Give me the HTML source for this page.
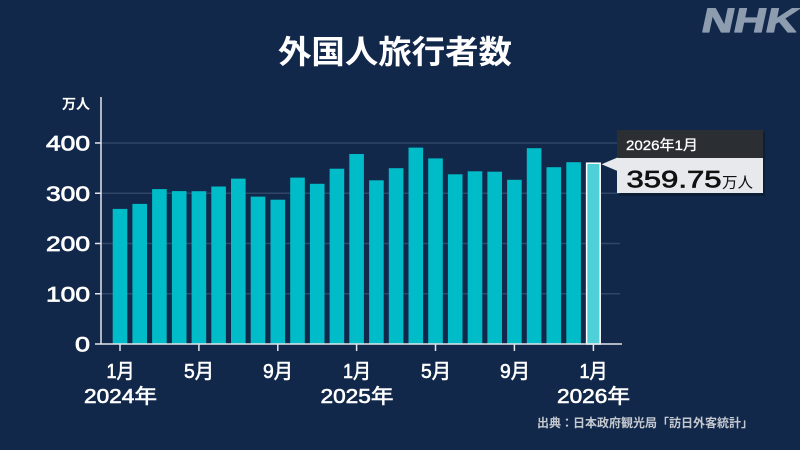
<!DOCTYPE html>
<html><head><meta charset="utf-8">
<style>
html,body{margin:0;padding:0;background:#12284a;}
svg{display:block;}
text{font-family:"Liberation Sans","Noto Sans CJK JP",sans-serif;}
</style></head>
<body>
<svg width="800" height="450" viewBox="0 0 800 450" xmlns="http://www.w3.org/2000/svg">
<rect width="800" height="450" fill="#12284a"/>
<!-- NHK logo -->
<g transform="translate(700,32) skewX(-12)">
<text x="0" y="0" font-size="34" font-weight="900" fill="#8e9cb0" stroke="#8e9cb0" stroke-width="1.2" stroke-linejoin="round" textLength="96" lengthAdjust="spacingAndGlyphs">NHK</text>
</g>
<!-- title -->
<text x="395" y="63" font-size="32" font-weight="bold" fill="#ffffff" text-anchor="middle" textLength="234" lengthAdjust="spacingAndGlyphs" style='font-family:"Noto Sans CJK JP",sans-serif'>外国人旅行者数</text>
<!-- unit -->
<text x="90" y="109" font-size="14" font-weight="bold" fill="#ffffff" text-anchor="end" style='font-family:"Noto Sans CJK JP",sans-serif'>万人</text>
<!-- gridlines -->
<g stroke="#2e4668" stroke-width="1.5">
<line x1="101" y1="143" x2="620" y2="143"/>
<line x1="101" y1="193.25" x2="620" y2="193.25"/>
<line x1="101" y1="243.5" x2="620" y2="243.5"/>
<line x1="101" y1="293.75" x2="620" y2="293.75"/>
</g>
<!-- y labels -->
<g font-size="21" fill="#ffffff" stroke="#ffffff" stroke-width="0.7" text-anchor="end">
<text x="90" y="150.5" textLength="44" lengthAdjust="spacingAndGlyphs">400</text>
<text x="90" y="200.75" textLength="44" lengthAdjust="spacingAndGlyphs">300</text>
<text x="90" y="251" textLength="44" lengthAdjust="spacingAndGlyphs">200</text>
<text x="90" y="301.25" textLength="44" lengthAdjust="spacingAndGlyphs">100</text>
<text x="90" y="351.5" textLength="15" lengthAdjust="spacingAndGlyphs">0</text>
</g>
<!-- bars -->
<g fill="#00bcc8">
<rect x="112.7" y="208.9" width="14.6" height="135.1"/>
<rect x="132.4" y="203.9" width="14.6" height="140.1"/>
<rect x="152.1" y="189.1" width="14.6" height="154.9"/>
<rect x="171.9" y="191.1" width="14.6" height="152.9"/>
<rect x="191.6" y="191.2" width="14.6" height="152.8"/>
<rect x="211.3" y="186.5" width="14.6" height="157.5"/>
<rect x="231.0" y="178.6" width="14.6" height="165.4"/>
<rect x="250.7" y="196.6" width="14.6" height="147.4"/>
<rect x="270.5" y="199.7" width="14.6" height="144.3"/>
<rect x="290.2" y="177.6" width="14.6" height="166.4"/>
<rect x="309.9" y="183.8" width="14.6" height="160.2"/>
<rect x="329.6" y="168.7" width="14.6" height="175.3"/>
<rect x="349.3" y="154.0" width="14.6" height="190.0"/>
<rect x="369.1" y="180.3" width="14.6" height="163.7"/>
<rect x="388.8" y="168.2" width="14.6" height="175.8"/>
<rect x="408.5" y="147.6" width="14.6" height="196.4"/>
<rect x="428.2" y="158.4" width="14.6" height="185.6"/>
<rect x="447.9" y="174.3" width="14.6" height="169.7"/>
<rect x="467.7" y="171.3" width="14.6" height="172.7"/>
<rect x="487.4" y="171.7" width="14.6" height="172.3"/>
<rect x="507.1" y="179.8" width="14.6" height="164.2"/>
<rect x="526.8" y="148.2" width="14.6" height="195.8"/>
<rect x="546.5" y="167.2" width="14.6" height="176.8"/>
<rect x="566.3" y="162.2" width="14.6" height="181.8"/>
</g>
<rect x="586.6" y="163.2" width="13.6" height="180.8" fill="#4fd0d8" stroke="#ffffff" stroke-width="1.5"/>
<!-- axes -->
<g stroke="#e2e6ec" stroke-width="1.5">
<line x1="101" y1="97" x2="101" y2="344"/>
<line x1="95" y1="344" x2="622" y2="344"/>
<line x1="95" y1="143" x2="101" y2="143"/>
<line x1="95" y1="193.25" x2="101" y2="193.25"/>
<line x1="95" y1="243.5" x2="101" y2="243.5"/>
<line x1="95" y1="293.75" x2="101" y2="293.75"/>
<line x1="120" y1="344" x2="120" y2="351"/>
<line x1="198.9" y1="344" x2="198.9" y2="351"/>
<line x1="277.8" y1="344" x2="277.8" y2="351"/>
<line x1="356.6" y1="344" x2="356.6" y2="351"/>
<line x1="435.5" y1="344" x2="435.5" y2="351"/>
<line x1="514.4" y1="344" x2="514.4" y2="351"/>
<line x1="593.4" y1="344" x2="593.4" y2="351"/>
</g>
<!-- x labels -->
<g font-size="20" fill="#ffffff" stroke="#ffffff" stroke-width="0.6" text-anchor="middle">
<text x="120.5" y="378" textLength="28" lengthAdjust="spacingAndGlyphs">1月</text>
<text x="199" y="378" textLength="30" lengthAdjust="spacingAndGlyphs">5月</text>
<text x="278" y="378" textLength="30" lengthAdjust="spacingAndGlyphs">9月</text>
<text x="357" y="378" textLength="28" lengthAdjust="spacingAndGlyphs">1月</text>
<text x="436" y="378" textLength="30" lengthAdjust="spacingAndGlyphs">5月</text>
<text x="515" y="378" textLength="30" lengthAdjust="spacingAndGlyphs">9月</text>
<text x="593.5" y="378" textLength="28" lengthAdjust="spacingAndGlyphs">1月</text>
<text x="120.5" y="403" textLength="73" lengthAdjust="spacingAndGlyphs">2024年</text>
<text x="357" y="403" textLength="73" lengthAdjust="spacingAndGlyphs">2025年</text>
<text x="593.5" y="403" textLength="73" lengthAdjust="spacingAndGlyphs">2026年</text>
</g>
<!-- source -->
<text x="753" y="427" font-size="12" font-weight="bold" fill="#c4c9d0" text-anchor="end" textLength="216" lengthAdjust="spacingAndGlyphs" style='font-family:"Noto Sans CJK JP",sans-serif'>出典：日本政府観光局「訪日外客統計」</text>
<!-- tooltip -->
<rect x="619" y="132" width="146" height="64" fill="#000" opacity="0.25"/>
<rect x="617" y="130" width="146" height="28" fill="#2b2f34"/>
<rect x="617" y="158" width="146" height="35" fill="#e7e9ec"/>
<polygon points="601.5,164.3 617.5,157.5 617.5,171" fill="#e7e9ec"/>
<text x="626" y="150" font-size="14" fill="#ffffff" stroke="#ffffff" stroke-width="0.3" textLength="72" lengthAdjust="spacingAndGlyphs">2026年1月</text>
<text x="626.5" y="187.5" font-size="24" fill="#111111" stroke="#111111" stroke-width="0.7" textLength="95" lengthAdjust="spacingAndGlyphs">359.75</text>
<text x="722" y="187.5" font-size="15" fill="#111111" textLength="31" lengthAdjust="spacingAndGlyphs" style='font-family:"Noto Sans CJK JP",sans-serif'>万人</text>
</svg>
</body></html>
